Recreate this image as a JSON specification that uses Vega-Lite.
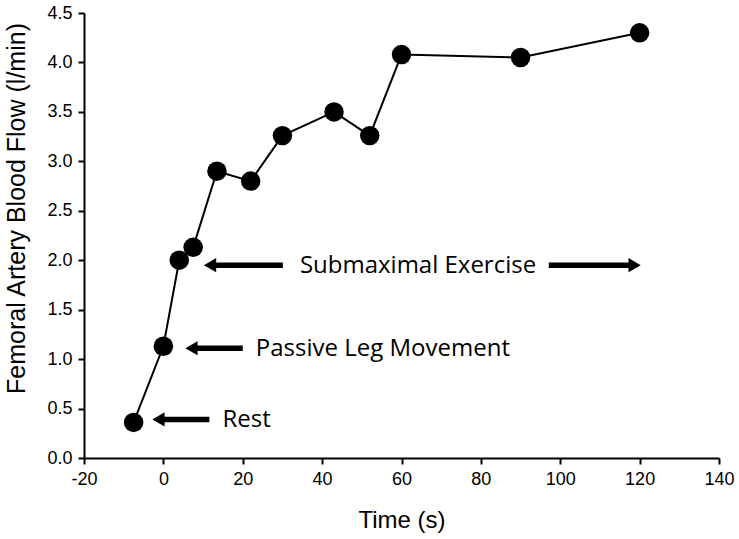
{
  "$schema": "https://vega.github.io/schema/vega-lite/v6.json",
  "width": 635,
  "height": 445,
  "autosize": {"type": "none"},
  "padding": {"left": 84, "top": 13, "right": 20, "bottom": 81},
  "background": "white",
  "config": {
    "view": {"stroke": null},
    "axis": {
      "grid": false,
      "domainColor": "black",
      "domainWidth": 2,
      "tickColor": "black",
      "tickWidth": 2,
      "tickSize": 6,
      "labelFlush": false,
      "labelColor": "black",
      "labelFont": "Liberation Sans",
      "labelFontSize": 18,
      "titleFont": "Liberation Sans",
      "titleFontWeight": "normal",
      "titleColor": "black"
    }
  },
  "datasets": {
    "flow": [
      {"t": -7.5, "flow": 0.36},
      {"t": 0, "flow": 1.13},
      {"t": 4, "flow": 2.0},
      {"t": 7.5, "flow": 2.13},
      {"t": 13.5, "flow": 2.9},
      {"t": 22, "flow": 2.8},
      {"t": 30, "flow": 3.26},
      {"t": 43, "flow": 3.5},
      {"t": 52, "flow": 3.26},
      {"t": 60, "flow": 4.08},
      {"t": 90, "flow": 4.05},
      {"t": 120, "flow": 4.3}
    ],
    "shafts": [
      {"x1": -1.0, "x2": 11.6, "y": 0.39},
      {"x1": 7.3, "x2": 20.0, "y": 1.11},
      {"x1": 12.0, "x2": 30.1, "y": 1.95},
      {"x1": 97.1, "x2": 118.5, "y": 1.95}
    ],
    "headsLeft": [
      {"x": -3.0, "y": 0.39},
      {"x": 5.3, "y": 1.11},
      {"x": 10.0, "y": 1.95}
    ],
    "headsRight": [
      {"x": 120.5, "y": 1.95}
    ],
    "labels": [
      {"x": 14.9, "y": 0.39, "text": "Rest"},
      {"x": 23.3, "y": 1.11, "text": "Passive Leg Movement"},
      {"x": 34.4, "y": 1.95, "text": "Submaximal Exercise"}
    ]
  },
  "layer": [
    {
      "data": {"name": "flow"},
      "mark": {"type": "line", "color": "black", "strokeWidth": 2},
      "encoding": {
        "x": {
          "field": "t", "type": "quantitative",
          "scale": {"domain": [-20, 140], "nice": false, "zero": false},
          "axis": {
            "values": [-20, 0, 20, 40, 60, 80, 100, 120, 140],
            "labelExpr": "datum.value < 0 ? '-' + abs(datum.value) : datum.label",
            "labelPadding": 6,
            "title": "Time (s)",
            "titleFontSize": 24,
            "titleBaseline": "alphabetic",
            "titleY": 69
          }
        },
        "y": {
          "field": "flow", "type": "quantitative",
          "scale": {"domain": [0, 4.5], "nice": false},
          "axis": {
            "values": [0, 0.5, 1, 1.5, 2, 2.5, 3, 3.5, 4, 4.5],
            "format": ".1f",
            "labelPadding": 6,
            "title": "Femoral Artery Blood Flow (l/min)",
            "titleFontSize": 25,
            "titleAngle": -90,
            "titleAlign": "center",
            "titleBaseline": "alphabetic",
            "titleX": -60,
            "titleY": 195
          }
        }
      }
    },
    {
      "data": {"name": "flow"},
      "mark": {"type": "point", "filled": true, "shape": "circle", "size": 380, "color": "black", "opacity": 1},
      "encoding": {
        "x": {"field": "t", "type": "quantitative"},
        "y": {"field": "flow", "type": "quantitative"}
      }
    },
    {
      "data": {"name": "shafts"},
      "mark": {"type": "rule", "color": "black", "strokeWidth": 5.5},
      "encoding": {
        "x": {"field": "x1", "type": "quantitative"},
        "x2": {"field": "x2"},
        "y": {"field": "y", "type": "quantitative"}
      }
    },
    {
      "data": {"name": "headsLeft"},
      "mark": {"type": "point", "filled": true, "shape": "triangle-left", "size": 200, "color": "black", "opacity": 1, "xOffset": 7},
      "encoding": {
        "x": {"field": "x", "type": "quantitative"},
        "y": {"field": "y", "type": "quantitative"}
      }
    },
    {
      "data": {"name": "headsRight"},
      "mark": {"type": "point", "filled": true, "shape": "triangle-right", "size": 200, "color": "black", "opacity": 1, "xOffset": -7},
      "encoding": {
        "x": {"field": "x", "type": "quantitative"},
        "y": {"field": "y", "type": "quantitative"}
      }
    },
    {
      "data": {"name": "labels"},
      "mark": {"type": "text", "align": "left", "baseline": "middle", "font": "Open Sans", "fontSize": 24, "color": "black", "dy": 1},
      "encoding": {
        "x": {"field": "x", "type": "quantitative"},
        "y": {"field": "y", "type": "quantitative"},
        "text": {"field": "text"}
      }
    }
  ]
}
